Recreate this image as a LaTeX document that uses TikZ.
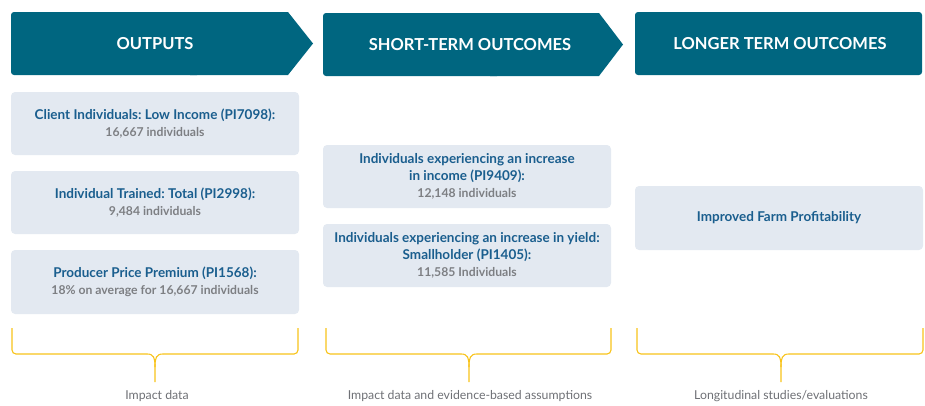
\documentclass[tikz,border=0pt]{standalone}
\usepackage{fontspec}
\setmainfont{Lato}
\frenchspacing
\definecolor{hdr}{HTML}{006680}
\definecolor{boxc}{HTML}{E3E9F1}
\definecolor{ttl}{HTML}{1A5E8E}
\definecolor{subc}{HTML}{7D7F83}
\definecolor{brc}{HTML}{F8C31A}
\definecolor{lblc}{HTML}{6E7075}
\tikzset{
  hdrtext/.style={text=white, font=\bfseries\fontsize{16.5}{19}\selectfont, inner sep=0pt},
  infobox/.style={fill=boxc, rounded corners=4pt, minimum width=288pt, align=center,
    inner sep=0pt, font=\fontsize{13.5}{16.8}\selectfont},
  bracepath/.style={draw=brc, line width=1.1pt},
  lbl/.style={text=lblc, font=\fontsize{12.3}{14}\selectfont, inner sep=0pt},
}
\newcommand{\ttlx}[1]{{\color{ttl}\bfseries #1}}
\newcommand{\subx}[1]{{\color{subc}\bfseries\fontsize{12.2}{16.8}\selectfont #1}}
\begin{document}
\begin{tikzpicture}[x=1pt,y=-1pt]
\useasboundingbox (0,0) rectangle (925,405);
% headers
\fill[hdr, rounded corners=3pt] (11,12) rectangle (200,75);
\fill[hdr] (190,12) -- (288,12) -- (313,43.5) -- (288,75) -- (190,75) -- cycle;
\node[hdrtext] (h1) at (155,44) {OUTPUTS};
\fill[hdr, rounded corners=3pt] (323,13) rectangle (500,76);
\fill[hdr] (490,13) -- (599,13) -- (623,44.5) -- (599,76) -- (490,76) -- cycle;
\node[hdrtext] (h2) at (470,45) {SHORT-TERM OUTCOMES};
\fill[hdr, rounded corners=3pt] (635,12) rectangle (922,75);
\node[hdrtext] (h3) at (780,44) {LONGER TERM OUTCOMES};
% column 1
\node[infobox, minimum height=63pt] (b1) at (155,123.5) {\ttlx{Client Individuals: Low Income (PI7098):}\\\subx{16,667 individuals}};
\node[infobox, minimum height=63pt] (b2) at (155,202.5) {\ttlx{Individual Trained: Total (PI2998):}\\\subx{9,484 individuals}};
\node[infobox, minimum height=64pt] (b3) at (155,282) {\ttlx{Producer Price Premium (PI1568):}\\\subx{18\% on average for 16,667 individuals}};
% column 2
\node[infobox, minimum height=63pt] (c1) at (467,176.5) {\ttlx{Individuals experiencing an increase}\\\ttlx{in income (PI9409):}\\\subx{12,148 individuals}};
\node[infobox, minimum height=63pt] (c2) at (467,255.5) {\ttlx{Individuals experiencing an increase in yield:}\\\ttlx{Smallholder (PI1405):}\\\subx{11,585 Individuals}};
% column 3
\node[infobox, minimum height=64pt] (d1) at (779,218) {\ttlx{Improved Farm Profitability}};
% braces
\foreach \l/\c/\r/\nm in {12/155/298/p, 326/469/611/q, 637/781/923/r}{
  \coordinate (\nm a) at (\l,328);
  \coordinate (\nm b) at (\r,328);
  \coordinate (\nm t) at (\c,382);
  \draw[bracepath, rounded corners=4pt] (\nm a) -- (\l,354) -- (\c-8,354);
  \draw[bracepath] (\c-8,354) .. controls (\c-1,354) and (\c,358) .. (\c,367) -- (\nm t);
  \draw[bracepath, rounded corners=4pt] (\nm b) -- (\r,354) -- (\c+8,354);
  \draw[bracepath] (\c+8,354) .. controls (\c+1,354) and (\c,358) .. (\c,367);
}
\node[lbl] (l1) at (157,396) {Impact data};
\node[lbl] (l2) at (470,396) {Impact data and evidence-based assumptions};
\node[lbl] (l3) at (781,396) {Longitudinal studies/evaluations};
\end{tikzpicture}
\end{document}
